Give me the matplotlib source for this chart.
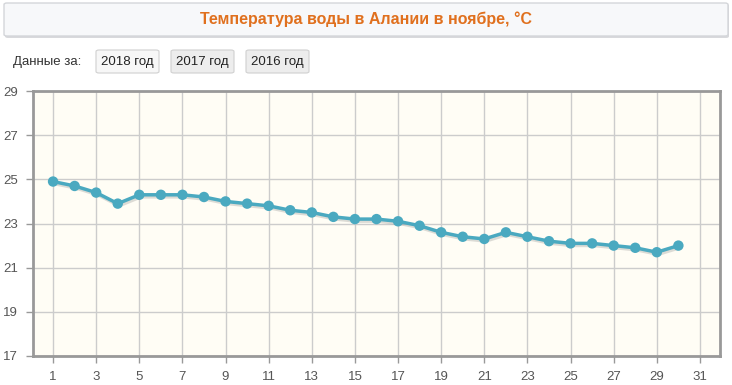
import matplotlib
matplotlib.use("Agg")
from matplotlib import pyplot as plt
from matplotlib.patches import FancyBboxPatch
import matplotlib.patheffects as pe

# данные: температура воды по дням ноября 2018
days = list(range(1, 31))
temps = [24.9, 24.7, 24.4, 23.9, 24.3, 24.3, 24.3, 24.2, 24.0, 23.9,
         23.8, 23.6, 23.5, 23.3, 23.2, 23.2, 23.1, 22.9, 22.6, 22.4,
         22.3, 22.6, 22.4, 22.2, 22.1, 22.1, 22.0, 21.9, 21.7, 22.0]
x_ticks = list(range(1, 32, 2))
y_ticks = list(range(17, 30, 2))
title = 'Температура воды в Алании в ноябре, °C'
buttons = ['2018 год', '2017 год', '2016 год']

plt.rcParams['font.family'] = ['Liberation Sans', 'DejaVu Sans']

W, H = 732, 385
fig = plt.figure(figsize=(W / 100, H / 100), dpi=100)

def fx(px):
    return px / W

def fy(py):
    return 1 - py / H

# шапка с заголовком (с лёгкой тенью снизу)
fig.patches.append(FancyBboxPatch((fx(5), fy(38)), fx(724), fy(4) - fy(38),
                                  boxstyle="round,pad=0,rounding_size=0.004",
                                  transform=fig.transFigure, facecolor='#d8d9dc',
                                  edgecolor='none'))
fig.patches.append(FancyBboxPatch((fx(4), fy(36)), fx(724), fy(3) - fy(36),
                                  boxstyle="round,pad=0,rounding_size=0.004",
                                  transform=fig.transFigure, facecolor='#f7f8fa',
                                  edgecolor='#d4d6da', linewidth=1))
fig.text(0.5, fy(19), title, ha='center', va='center', fontsize=11.5,
         fontweight='bold', color='#e0701e')

# кнопки выбора года
fig.text(fx(13), fy(62), 'Данные за:', ha='left', va='center', fontsize=9.5, color='#333333')
btn_x = [96, 171, 246]
for i, (bx, label) in enumerate(zip(btn_x, buttons)):
    fc = '#f7f7f7' if i == 0 else '#ededed'
    fig.patches.append(FancyBboxPatch((fx(bx), fy(73)), fx(63), fy(50) - fy(73),
                                      boxstyle="round,pad=0,rounding_size=0.004",
                                      transform=fig.transFigure, facecolor=fc,
                                      edgecolor='#d0d0d0', linewidth=0.8))
    fig.text(fx(bx + 31.5), fy(62), label, ha='center', va='center',
             fontsize=9.5, color='#222222')

# область графика
ax = fig.add_axes([fx(33), fy(356), fx(720 - 33), fy(91) - fy(356)])
ax.set_facecolor('#fffdf5')
ax.set_xlim(0.07, 31.93)
ax.set_ylim(17, 29)
ax.set_xticks(x_ticks)
ax.set_yticks(y_ticks)
ax.grid(True, color='#cccccc', linewidth=1)
ax.set_axisbelow(True)
for s in ax.spines.values():
    s.set_color('#999999')
    s.set_linewidth(2)
ax.tick_params(axis='both', colors='#999999', length=5, width=1,
               labelcolor='#555555', labelsize=9.5)
ax.tick_params(axis='x', pad=6)
ax.tick_params(axis='y', pad=6)

ax.plot(days, temps, color='#4aa9c0', linewidth=2.5, marker='o', markersize=7.5,
        markeredgewidth=0, zorder=3,
        path_effects=[pe.SimpleLineShadow(offset=(1, -1.5), shadow_color='#777777', alpha=0.25),
                      pe.Normal()])

fig.savefig('out.png', dpi=100)
